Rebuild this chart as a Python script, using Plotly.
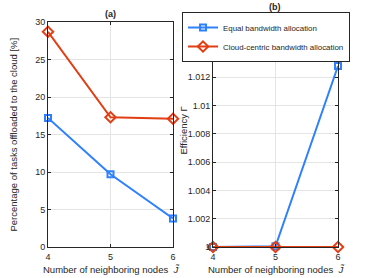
import plotly.graph_objects as go

nodes = [4, 5, 6]
pct_equal = [17.2, 9.7, 3.8]
pct_cloud = [28.7, 17.3, 17.1]
eff_equal = [1.0, 1.00005, 1.0128]
eff_cloud = [1.0, 1.0, 1.0]

blue = "#2f80ff"
red = "#e23e14"
axc = "#262626"
font = "Liberation Sans, Arial, sans-serif"

W, H = 374, 278
def px(x):
    return x / W
def py(y):
    return 1 - y / H

fig = go.Figure()
fig.add_trace(go.Scatter(x=nodes, y=pct_equal, mode="lines+markers", name="Equal bandwidth allocation",
                         line=dict(color=blue, width=2), marker=dict(symbol="square-open", size=6, line=dict(width=2, color=blue)),
                         cliponaxis=False, xaxis="x", yaxis="y", showlegend=True))
fig.add_trace(go.Scatter(x=nodes, y=pct_cloud, mode="lines+markers", name="Cloud-centric bandwidth allocation",
                         line=dict(color=red, width=2), marker=dict(symbol="diamond-open", size=8, line=dict(width=2, color=red)),
                         cliponaxis=False, xaxis="x", yaxis="y", showlegend=True))
fig.add_trace(go.Scatter(x=nodes, y=eff_equal, mode="lines+markers", name="Equal bandwidth allocation",
                         line=dict(color=blue, width=2), marker=dict(symbol="square-open", size=6, line=dict(width=2, color=blue)),
                         cliponaxis=False, xaxis="x2", yaxis="y2", showlegend=False))
fig.add_trace(go.Scatter(x=nodes, y=eff_cloud, mode="lines+markers", name="Cloud-centric bandwidth allocation",
                         line=dict(color=red, width=2), marker=dict(symbol="diamond-open", size=8, line=dict(width=2, color=red)),
                         cliponaxis=False, xaxis="x2", yaxis="y2", showlegend=False))

xt = "Number of neighboring nodes  <i>J̃</i>"
common = dict(showline=True, mirror="ticks", ticks="inside", ticklen=3, linecolor=axc, linewidth=1,
              tickcolor=axc, gridcolor="#e4e4e4", gridwidth=1, zeroline=False, automargin=False,
              tickfont=dict(size=9, color=axc, family=font))

def ann(text, x, y, size=9.5, angle=0):
    return dict(text=text, x=px(x), y=py(y), xref="paper", yref="paper", showarrow=False,
                xanchor="center", yanchor="middle", textangle=angle, font=dict(size=size, color=axc))

fig.update_layout(
    width=W, height=H,
    margin=dict(l=0, r=0, t=0, b=0),
    paper_bgcolor="white", plot_bgcolor="white",
    font=dict(family=font, color=axc),
    xaxis=dict(domain=[px(48), px(173)], range=[4, 6], dtick=1, anchor="y", ticklabelstandoff=1, **common),
    yaxis=dict(domain=[py(247), py(22)], range=[0, 30], dtick=5, anchor="x", **common),
    xaxis2=dict(domain=[px(213), px(338)], range=[4, 6], dtick=1, anchor="y2", ticklabelstandoff=1, **common),
    yaxis2=dict(domain=[py(247), py(49)], range=[1.0, 1.014], dtick=0.002, anchor="x2", **common),
    legend=dict(x=px(182), y=py(12), xanchor="left", yanchor="top",
                bordercolor=axc, borderwidth=1, bgcolor="white",
                font=dict(size=7.9, color=axc), tracegroupgap=0, itemwidth=30),
    annotations=[
        ann("<b>(a)</b>", 110, 14, size=9),
        ann("<b>(b)</b>", 275, 7, size=9),
        ann(xt, 110.5, 269),
        ann(xt, 275.5, 269),
        ann("Percentage of tasks offloaded to the cloud [%]", 13, 134.5, angle=-90),
        ann("Efficiency Γ", 182.5, 131, angle=-90),
    ],
)

fig.write_html("out.html", config={"displayModeBar": False},
               post_script="document.body.style.margin='0';document.body.style.overflow='hidden';")
